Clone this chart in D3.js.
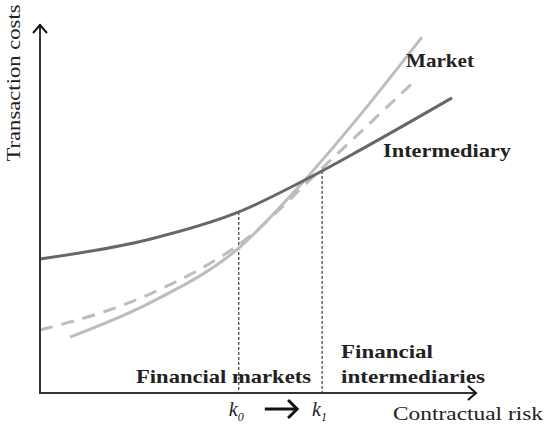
<!DOCTYPE html>
<html>
<head>
<meta charset="utf-8">
<script src="https://cdn.jsdelivr.net/npm/d3@7"></script>
<style>
  body { margin: 0; background: #fff; }
  text { font-family: "Liberation Serif", "Times New Roman", serif; fill: #222; }
</style>
</head>
<body>
<figure id="chart" style="margin:0"></figure>
<script>
// contractual risk (x) vs transaction costs (y), arbitrary units 0-100
const intermediaryX = [0, 25.2, 45.6, 60.3, 73.4, 94.5];
const intermediaryY = [36.4, 41.8, 49.2, 57.6, 66.0, 80.2];

const marketX = [6.9, 25.2, 45.6, 60.3, 73.4, 87.6];
const marketY = [15.2, 24.5, 39.4, 57.3, 75.5, 96.7];

const dashedX = [0, 25.2, 47.0, 64.7, 86.2];
const dashedY = [17.1, 26.9, 41.6, 61.1, 85.1];

const thresholds = [45.6, 64.7];
const thresholdLabels = ["0", "1"];

const width = 545, height = 432;
const margin = {left: 40, right: 69, top: 25, bottom: 39};

const svg = d3.select("#chart").append("svg")
  .attr("width", width)
  .attr("height", height);

const x = d3.scaleLinear().domain([0, 100]).range([margin.left, width - margin.right]);
const y = d3.scaleLinear().domain([0, 100]).range([height - margin.bottom, margin.top]);

const line = d3.line()
  .x(d => x(d[0]))
  .y(d => y(d[1]))
  .curve(d3.curveMonotoneX);

// dotted guides start on the intermediary curve
const interPath = svg.append("path")
  .datum(d3.zip(intermediaryX, intermediaryY))
  .attr("d", line)
  .attr("fill", "none");
const curveYAt = (node, px) => {
  const total = node.getTotalLength();
  let lo = 0, hi = total;
  for (let i = 0; i < 40; i++) {
    const mid = (lo + hi) / 2;
    if (node.getPointAtLength(mid).x < px) lo = mid; else hi = mid;
  }
  return node.getPointAtLength(lo).y;
};

svg.selectAll("line.guide")
  .data(thresholds)
  .enter()
  .append("line")
  .attr("x1", d => x(d)).attr("x2", d => x(d))
  .attr("y1", d => curveYAt(interPath.node(), x(d))).attr("y2", y(0))
  .attr("stroke", "#111")
  .attr("stroke-width", 1)
  .attr("stroke-dasharray", "3,2");

// curves
svg.append("path")
  .datum(d3.zip(dashedX, dashedY))
  .attr("d", line)
  .attr("fill", "none")
  .attr("stroke", "#bdbdbd")
  .attr("stroke-width", 3)
  .attr("stroke-dasharray", "13,9");

svg.append("path")
  .datum(d3.zip(marketX, marketY))
  .attr("d", line)
  .attr("fill", "none")
  .attr("stroke", "#bdbdbd")
  .attr("stroke-width", 3);

interPath
  .attr("stroke", "#676767")
  .attr("stroke-width", 3)
  .raise();

// axes
const axisColor = "#333";
svg.append("line")
  .attr("x1", x(0)).attr("x2", x(0))
  .attr("y1", y(0)).attr("y2", y(100) - 1)
  .attr("stroke", axisColor).attr("stroke-width", 2);
svg.append("line")
  .attr("x1", x(0) - 1).attr("x2", x(100))
  .attr("y1", y(0)).attr("y2", y(0))
  .attr("stroke", axisColor).attr("stroke-width", 2);

svg.append("path")
  .attr("d", `M${x(0) - 7},${y(100) + 8} L${x(0)},${y(100)} L${x(0) + 7},${y(100) + 8}`)
  .attr("fill", "none").attr("stroke", "#111").attr("stroke-width", 2);
svg.append("path")
  .attr("d", `M${x(100) - 8},${y(0) - 7} L${x(100)},${y(0)} L${x(100) - 8},${y(0) + 7}`)
  .attr("fill", "none").attr("stroke", "#111").attr("stroke-width", 2);

// axis titles
svg.append("text")
  .attr("transform", `translate(20,${y(100) + 58}) rotate(-90)`)
  .attr("text-anchor", "middle")
  .attr("font-size", 19)
  .attr("textLength", 157)
  .attr("lengthAdjust", "spacingAndGlyphs")
  .text("Transaction costs");

svg.append("text")
  .attr("x", 393).attr("y", 420)
  .attr("font-size", 19)
  .attr("textLength", 150)
  .attr("lengthAdjust", "spacingAndGlyphs")
  .text("Contractual risk");

// curve labels
const bold = (tx, ty, str, len) => svg.append("text")
  .attr("x", tx).attr("y", ty)
  .attr("font-size", 19)
  .attr("font-weight", "bold")
  .attr("textLength", len)
  .attr("lengthAdjust", "spacingAndGlyphs")
  .text(str);

bold(406, 67, "Market", 68);
bold(383, 157, "Intermediary", 128);
bold(136, 383, "Financial markets", 175);
bold(341, 358, "Financial", 92);
bold(341, 383, "intermediaries", 144);

// k labels
const kl = svg.selectAll("g.k")
  .data(thresholds)
  .enter()
  .append("text")
  .attr("x", d => x(d) - 10)
  .attr("y", 416)
  .attr("font-size", 20)
  .attr("font-style", "italic");
kl.append("tspan").text("k");
kl.append("tspan")
  .attr("dy", 5)
  .attr("font-size", 12)
  .text((d, i) => thresholdLabels[i]);

// arrow k0 -> k1
svg.append("line")
  .attr("x1", x(thresholds[0]) + 26).attr("x2", x(thresholds[1]) - 25)
  .attr("y1", 409).attr("y2", 409)
  .attr("stroke", "#111").attr("stroke-width", 3);
svg.append("path")
  .attr("d", `M${x(thresholds[1]) - 34},400 L${x(thresholds[1]) - 25},409 L${x(thresholds[1]) - 34},418`)
  .attr("fill", "none").attr("stroke", "#111").attr("stroke-width", 3);
</script>
</body>
</html>
